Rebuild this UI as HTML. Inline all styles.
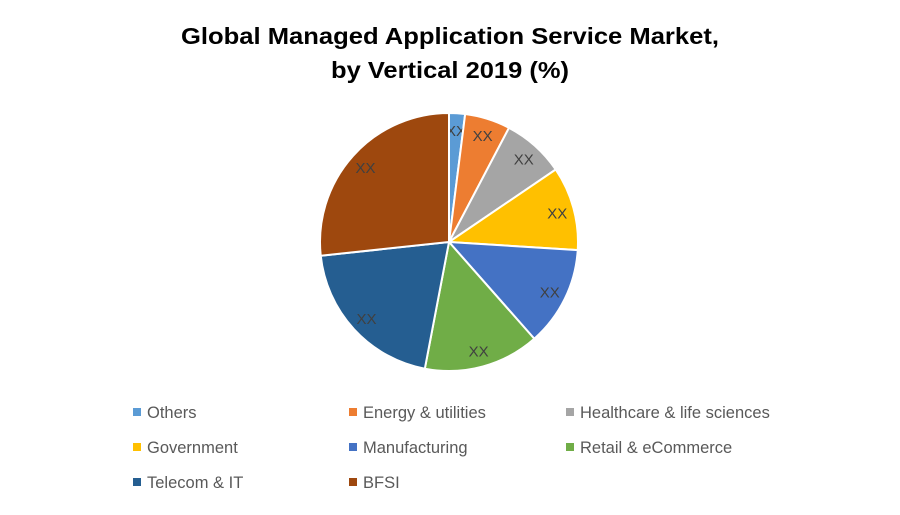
<!DOCTYPE html>
<html><head><meta charset="utf-8"><style>
body{margin:0;background:#fff;width:900px;height:510px;overflow:hidden;font-family:"Liberation Sans",sans-serif}
</style></head><body>
<svg width="900" height="510">
<text x="450" y="44" text-anchor="middle" font-size="23" font-weight="bold" fill="#000" textLength="538" lengthAdjust="spacingAndGlyphs">Global Managed Application Service Market,</text>
<text x="450" y="78" text-anchor="middle" font-size="23" font-weight="bold" fill="#000" textLength="238" lengthAdjust="spacingAndGlyphs">by Vertical 2019 (%)</text>
<g id="pie"></g>
<g id="legend"></g>
</svg>
<script>
const categories=["Others","Energy & utilities","Healthcare & life sciences","Government","Manufacturing","Retail & eCommerce","Telecom & IT","BFSI"];
const values=[2,5.7,7.8,10.5,12.5,14.5,20.3,26.7];
const labels=["XX","XX","XX","XX","XX","XX","XX","XX"];
const colors=["#5B9BD5","#ED7D31","#A5A5A5","#FFC000","#4472C4","#70AD47","#255E91","#9E480E"];
const NS="http://www.w3.org/2000/svg";
const cx=449,cy=242,r=129;
const total=values.reduce((a,b)=>a+b,0);
const pie=document.getElementById('pie');
let a0=0;
function pt(a,rr){return [cx+rr*Math.sin(a),cy-rr*Math.cos(a)];}
values.forEach((v,i)=>{
  const a1=a0+v/total*2*Math.PI;
  const [x0,y0]=pt(a0,r),[x1,y1]=pt(a1,r);
  const p=document.createElementNS(NS,'path');
  p.setAttribute('d',`M${cx},${cy}L${x0},${y0}A${r},${r} 0 ${a1-a0>Math.PI?1:0} 1 ${x1},${y1}Z`);
  p.setAttribute('fill',colors[i]);p.setAttribute('stroke','#fff');p.setAttribute('stroke-width','2');
  
  
  pie.appendChild(p);
  const [lx,ly]=pt((a0+a1)/2,r*0.87);
  const t=document.createElementNS(NS,'text');
  t.setAttribute('x',lx);t.setAttribute('y',ly+6);t.setAttribute('text-anchor','middle');
  t.setAttribute('font-size','15');t.setAttribute('fill','#404040');
  t.textContent=labels[i];
  
  
  pie.appendChild(t);
  a0=a1;
});
const lg=document.getElementById('legend');
const colX=[133,349,566],rowY=[412,447,482];
categories.forEach((c,i)=>{
  const x=colX[i%3],y=rowY[Math.floor(i/3)];
  const g=document.createElementNS(NS,'g');
  
  
  const s=document.createElementNS(NS,'rect');
  s.setAttribute('x',x);s.setAttribute('y',y-4);s.setAttribute('width',8);s.setAttribute('height',8);s.setAttribute('fill',colors[i]);
  const t=document.createElementNS(NS,'text');
  t.setAttribute('x',x+14);t.setAttribute('y',y+6);t.setAttribute('font-size','16.5');t.setAttribute('fill','#595959');
  t.textContent=c;
  g.appendChild(s);g.appendChild(t);lg.appendChild(g);
});
</script>
</body></html>
